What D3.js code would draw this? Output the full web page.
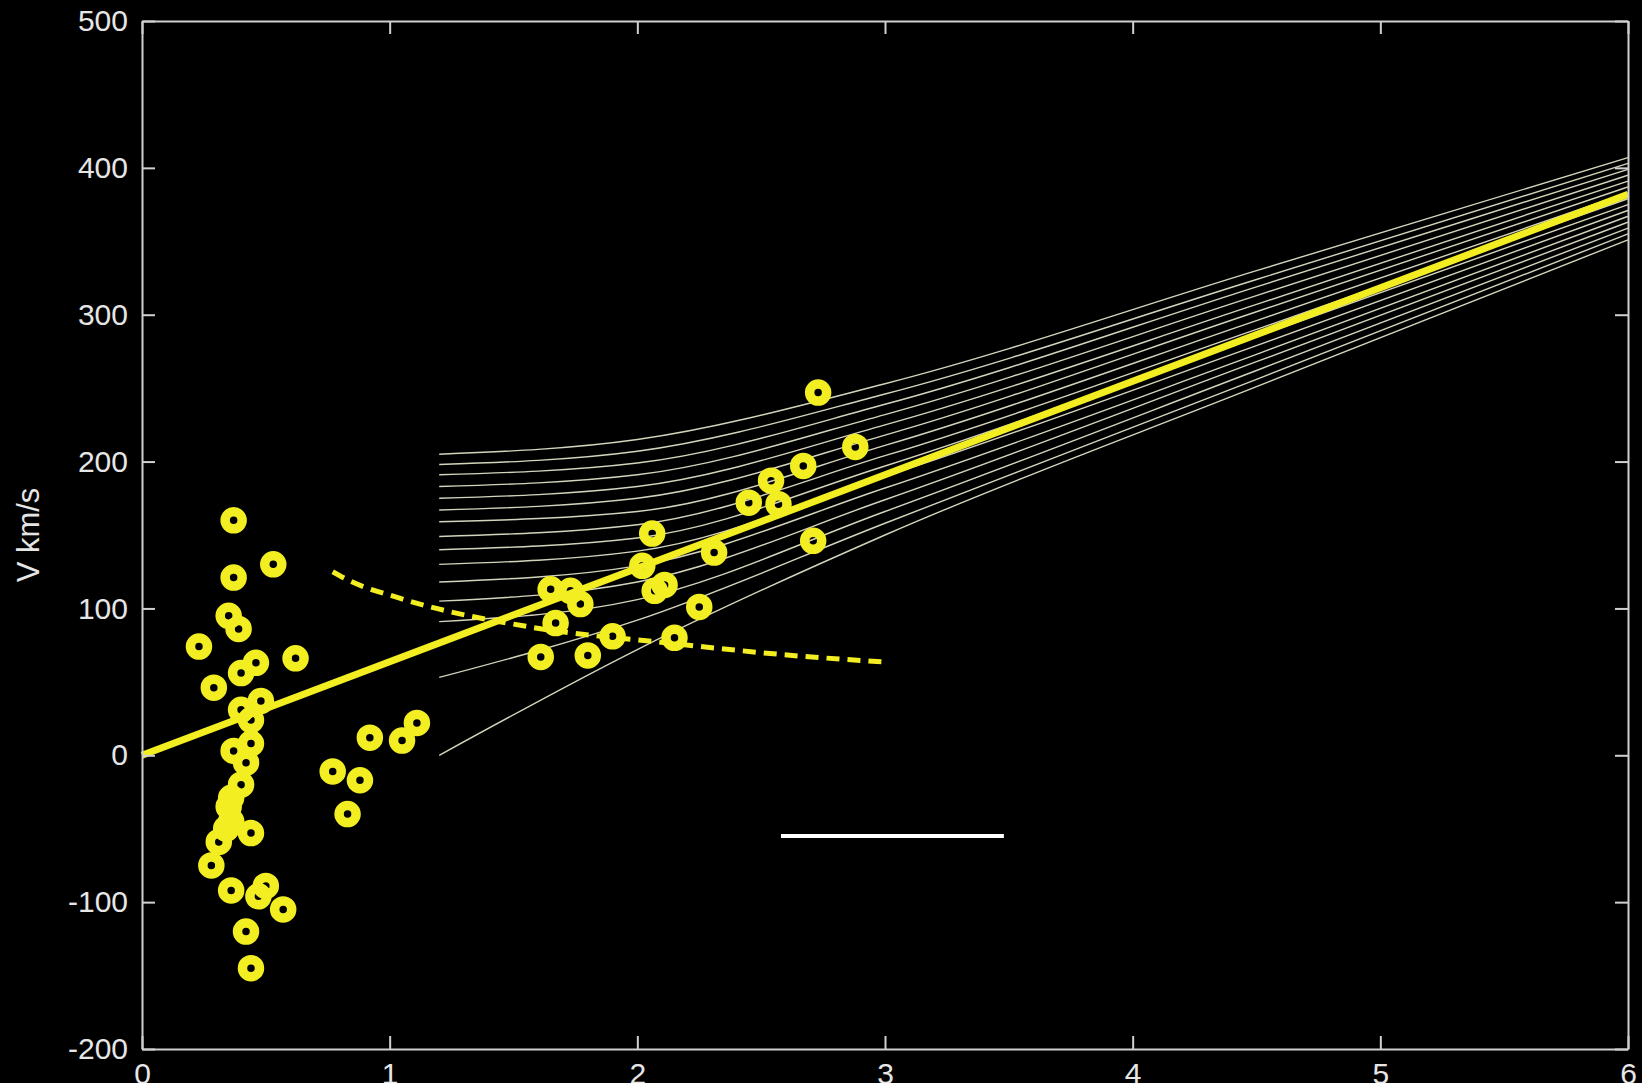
<!DOCTYPE html>
<html>
<head>
<meta charset="utf-8">
<script src="https://cdn.jsdelivr.net/npm/d3@7"></script>
<style>
	body{margin:0;background:#000;}
	svg{display:block;background:#000;}
	.axis text{font-family:"Liberation Sans",Arial,sans-serif;font-size:30px;fill:#e6e6e6;}
	.axis line,.axis path{stroke:#d0d0d0;stroke-width:2;}
	.t_label{font-family:"Liberation Sans",Arial,sans-serif;font-size:31px;fill:#e6e6e6;}
</style>
</head>
<body>
<svg width="1642" height="1083"></svg>
<script>

/* ----------------------------------------------------------
data
---------------------------------------------------------- */

var xTicks = [0,1,2,3,4,5,6];
var vTicks = [-200,-100,0,100,200,300,400,500];

// observed points (x , V km/s)
var obsX = [0.37,0.53,0.37,0.35,0.39,0.23,0.46,0.62,0.40,0.29,0.48,0.40,0.44,
	0.44,0.37,0.42,0.40,0.36,0.35,0.36,0.34,0.44,0.31,0.28,0.36,0.50,0.47,0.57,0.42,0.44,
	0.77,0.83,0.88,0.92,1.05,1.11,
	2.73,2.88,2.67,2.54,2.45,2.57,2.06,2.71,2.31,2.02,1.65,1.73,1.77,2.07,2.11,1.67,2.25,1.90,2.15,1.61,1.80];
var obsV = [160,130,121,95,86,74,63,66,56,46,37,31,24,
	8,3,-5,-20,-29,-35,-45,-50,-53,-59,-75,-92,-89,-96,-105,-120,-145,
	-11,-40,-17,12,10,22,
	247,210,197,187,172,171,151,146,138,129,113,112,103,112,116,90,101,81,80,67,68];

// fitted line
var fitX = [0,6];
var fitV = [0,382];

// dashed curve
var dashX = [0.77,0.83,1.04,1.58,2.12,2.66,3.0];
var dashV = [125,119.5,107,87,76.5,67.5,63.5];

// family of thin curves
var fanX = [1.2,2.0,3.0,4.5,6.0];
var fanV = [
	[205,215,253,330,407],
	[198,207,246,324,403],
	[191,199,239,319,399],
	[183,191,232,313,395],
	[175,183,225,307,391],
	[167,175,218,302,387],
	[159,166,211,296,383],
	[149,157,204,290,379],
	[140,148,197,285,375],
	[130,139,190,279,371],
	[118,129,182,273,367],
	[105,118,174,268,363],
	[91,106,166,262,359],
	[53,92,158,256,355],
	[0,72,150,251,351]
];

// white bar
var barX = [2.58,3.48];
var barV = [-55,-55];

/* ----------------------------------------------------------
setting
---------------------------------------------------------- */

var svg = d3.select("svg");
var x = d3.scaleLinear().domain([0,6]).range([142,1628]);
var y = d3.scaleLinear().domain([-200,500]).range([1049,21]);

var line = d3.line()
	.x(function(d){return x(d[0]);})
	.y(function(d){return y(d[1]);});
var curve = d3.line()
	.x(function(d){return x(d[0]);})
	.y(function(d){return y(d[1]);})
	.curve(d3.curveMonotoneX);

function pairs(xs,vs){
	return xs.map(function(d,i){return [d,vs[i]];});
}
function plain(d){ return String(d); }

/* ----------------------------------------------------------
draw
---------------------------------------------------------- */

//thin curves
svg.append("g").selectAll("path")
	.data(fanV)
	.enter().append("path")
	.attr("d",function(d){return curve(pairs(fanX,d));})
	.style("fill","none").style("stroke","#d4d4bc").style("stroke-width",1.4);

//fit
svg.append("path").attr("d",line(pairs(fitX,fitV)))
	.style("fill","none").style("stroke","#f2ee22").style("stroke-width",7);

//dashed
svg.append("path").attr("d",curve(pairs(dashX,dashV)))
	.style("fill","none").style("stroke","#f2ee22").style("stroke-width",5)
	.style("stroke-dasharray","13,8");

//points
svg.append("g").selectAll("circle")
	.data(pairs(obsX,obsV))
	.enter().append("circle")
	.attr("cx",function(d){return x(d[0]);})
	.attr("cy",function(d){return y(d[1]);})
	.attr("r",8.5)
	.style("fill","none").style("stroke","#f2ee22").style("stroke-width",9.5);

//bar
svg.append("path").attr("d",line(pairs(barX,barV)))
	.style("stroke","#fff").style("stroke-width",4);

//axis
svg.append("g").attr("class","axis").attr("transform","translate(0,"+y(-200)+")")
	.call(d3.axisBottom(x).tickValues(xTicks).tickFormat(plain).tickSizeInner(-13).tickSizeOuter(0).tickPadding(14));
svg.append("g").attr("class","axis").attr("transform","translate(0,"+y(500)+")")
	.call(d3.axisTop(x).tickValues(xTicks).tickSizeInner(-13).tickSizeOuter(0).tickFormat(""));
svg.append("g").attr("class","axis").attr("transform","translate("+x(0)+",0)")
	.call(d3.axisLeft(y).tickValues(vTicks).tickFormat(plain).tickSizeInner(-13).tickSizeOuter(0).tickPadding(14));
svg.append("g").attr("class","axis").attr("transform","translate("+x(6)+",0)")
	.call(d3.axisRight(y).tickValues(vTicks).tickSizeInner(-13).tickSizeOuter(0).tickFormat(""));

//label
svg.append("text").attr("class","t_label")
	.attr("transform","translate(39,535) rotate(-90)")
	.style("text-anchor","middle")
	.text("V km/s");

</script>
</body>
</html>
